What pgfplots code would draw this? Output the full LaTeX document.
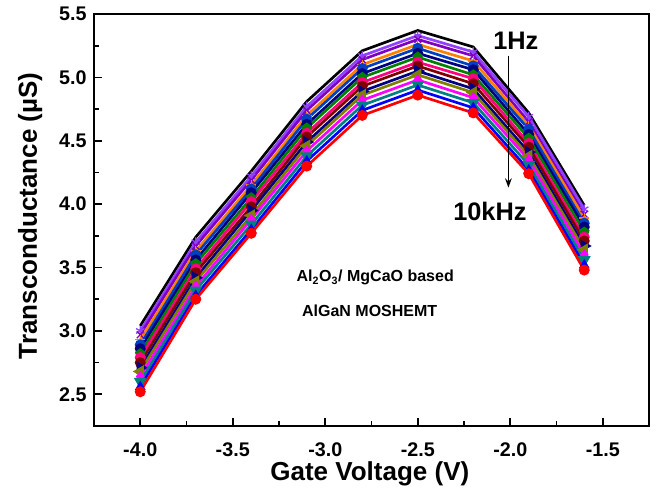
\documentclass[border=0pt]{standalone}
\usepackage{fontspec}
\setmainfont{Liberation Sans}
\usepackage{pgfplots}
\pgfplotsset{compat=1.18}
\usetikzlibrary{arrows.meta}
\definecolor{cRed}{HTML}{FF0000}
\definecolor{cBlue}{HTML}{0000FF}
\definecolor{cDCyan}{HTML}{008080}
\definecolor{cMag}{HTML}{FF00FF}
\definecolor{cOlive}{HTML}{808000}
\definecolor{cNavy}{HTML}{000080}
\definecolor{cWine}{HTML}{800000}
\definecolor{cPink}{HTML}{FF0080}
\definecolor{cGreen}{HTML}{008000}
\definecolor{cRoyal}{HTML}{0000A0}
\definecolor{cBlue2}{HTML}{0040C0}
\definecolor{cOrange}{HTML}{FF8000}
\definecolor{cPurple}{HTML}{8000C0}
\definecolor{cViolet}{HTML}{9040FF}
\begin{document}
\begin{tikzpicture}[x=0.75pt,y=0.75pt]
\begin{axis}[
  scale only axis,
  width=416.25pt, height=309pt,
  xmin=-4.25, xmax=-1.25, ymin=2.25, ymax=5.5,
  xtick={-4.0,-3.5,...,-1.5}, ytick={2.5,3.0,...,5.5},
  minor x tick num=1, minor y tick num=1,
  xtick pos=bottom, ytick pos=left,
  tick align=inside,
  major tick length=6pt, minor tick length=3.5pt,
  axis line style={line width=1.5pt},
  every tick/.style={line width=1.3pt, black},
  /pgf/number format/assume math mode=true,
  /pgf/number format/fixed, /pgf/number format/fixed zerofill,
  /pgf/number format/precision=1,
  ticklabel style={font=\fontsize{14.8}{16}\selectfont\bfseries},
  xticklabel style={yshift=-9pt},
  yticklabel style={xshift=-2pt},
  xlabel={Gate Voltage (V)},
  ylabel={Transconductance (µS)},
  label style={font=\fontsize{19.5}{22}\selectfont\bfseries},
  xlabel style={at={(axis description cs:0.497,-0.117)}, anchor=center},
  ylabel style={at={(axis description cs:-0.115,0.51)}, anchor=center},
  every axis plot/.append style={line width=2pt, mark size=3.6pt, mark options={solid, line width=1pt}},
  clip=false,
]
% top (1 Hz) -> bottom (10 kHz)
\addplot[color=black, mark=none] coordinates {(-4.0,3.04) (-3.7,3.74) (-3.4,4.26) (-3.1,4.81) (-2.8,5.21) (-2.5,5.37) (-2.2,5.24) (-1.9,4.72) (-1.6,3.99)};
\addplot[color=cViolet, mark=asterisk] coordinates {(-4.0,3.00) (-3.7,3.70) (-3.4,4.22) (-3.1,4.77) (-2.8,5.17) (-2.5,5.33) (-2.2,5.20) (-1.9,4.69) (-1.6,3.96)};
\addplot[color=cPurple, mark=x] coordinates {(-4.0,2.97) (-3.7,3.67) (-3.4,4.19) (-3.1,4.74) (-2.8,5.14) (-2.5,5.30) (-2.2,5.17) (-1.9,4.65) (-1.6,3.92)};
\addplot[color=cOrange, mark=+] coordinates {(-4.0,2.93) (-3.7,3.63) (-3.4,4.15) (-3.1,4.70) (-2.8,5.10) (-2.5,5.26) (-2.2,5.13) (-1.9,4.62) (-1.6,3.89)};
\addplot[color=cBlue2, mark=*] coordinates {(-4.0,2.89) (-3.7,3.60) (-3.4,4.12) (-3.1,4.67) (-2.8,5.07) (-2.5,5.23) (-2.2,5.09) (-1.9,4.59) (-1.6,3.85)};
\addplot[color=cNavy, mark=*] coordinates {(-4.0,2.86) (-3.7,3.56) (-3.4,4.09) (-3.1,4.63) (-2.8,5.03) (-2.5,5.19) (-2.2,5.06) (-1.9,4.55) (-1.6,3.82)};
\addplot[color=cGreen, mark=pentagon*] coordinates {(-4.0,2.82) (-3.7,3.53) (-3.4,4.05) (-3.1,4.60) (-2.8,5.00) (-2.5,5.16) (-2.2,5.02) (-1.9,4.52) (-1.6,3.78)};
\addplot[color=cPink, mark=*] coordinates {(-4.0,2.79) (-3.7,3.49) (-3.4,4.02) (-3.1,4.56) (-2.8,4.96) (-2.5,5.12) (-2.2,4.99) (-1.9,4.48) (-1.6,3.74)};
\addplot[color=cWine, mark=*] coordinates {(-4.0,2.75) (-3.7,3.46) (-3.4,3.98) (-3.1,4.53) (-2.8,4.93) (-2.5,5.09) (-2.2,4.95) (-1.9,4.45) (-1.6,3.71)};
\addplot[color=cNavy, mark=triangle*, mark options={rotate=270}] coordinates {(-4.0,2.71) (-3.7,3.42) (-3.4,3.95) (-3.1,4.49) (-2.8,4.89) (-2.5,5.05) (-2.2,4.91) (-1.9,4.41) (-1.6,3.67)};
\addplot[color=cOlive, mark=triangle*, mark options={rotate=90}] coordinates {(-4.0,2.68) (-3.7,3.39) (-3.4,3.91) (-3.1,4.46) (-2.8,4.86) (-2.5,5.02) (-2.2,4.88) (-1.9,4.38) (-1.6,3.64)};
\addplot[color=cMag, mark=diamond*] coordinates {(-4.0,2.64) (-3.7,3.35) (-3.4,3.88) (-3.1,4.42) (-2.8,4.82) (-2.5,4.98) (-2.2,4.84) (-1.9,4.35) (-1.6,3.60)};
\addplot[color=cDCyan, mark=triangle*, mark options={rotate=180}] coordinates {(-4.0,2.60) (-3.7,3.32) (-3.4,3.84) (-3.1,4.38) (-2.8,4.78) (-2.5,4.94) (-2.2,4.80) (-1.9,4.31) (-1.6,3.56)};
\addplot[color=cBlue, mark=triangle*] coordinates {(-4.0,2.56) (-3.7,3.28) (-3.4,3.80) (-3.1,4.34) (-2.8,4.74) (-2.5,4.90) (-2.2,4.76) (-1.9,4.27) (-1.6,3.52)};
\addplot[color=cRed, mark=*] coordinates {(-4.0,2.52) (-3.7,3.25) (-3.4,3.77) (-3.1,4.30) (-2.8,4.70) (-2.5,4.86) (-2.2,4.72) (-1.9,4.24) (-1.6,3.48)};
\node[font=\fontsize{19}{22}\selectfont\bfseries] at (axis cs:-1.97,5.29) {1Hz};
\draw[-{Stealth[length=7pt,width=5pt]}, line width=1.1pt] (axis cs:-2.01,5.17) -- (axis cs:-2.01,4.13);
\node[font=\fontsize{19}{22}\selectfont\bfseries] at (axis cs:-2.11,3.94) {10kHz};
\node[font=\fontsize{12}{14}\selectfont\bfseries] at (axis cs:-2.73,3.42) {Al\textsubscript{2}O\textsubscript{3}/ MgCaO based};
\node[font=\fontsize{12}{14}\selectfont\bfseries] at (axis cs:-2.76,3.16) {AlGaN MOSHEMT};
\end{axis}
\pgfresetboundingbox
\path (current axis.south west) ++(-94,-65) rectangle ([xshift=10.5pt,yshift=10.5pt]current axis.north east);
\end{tikzpicture}
\end{document}
